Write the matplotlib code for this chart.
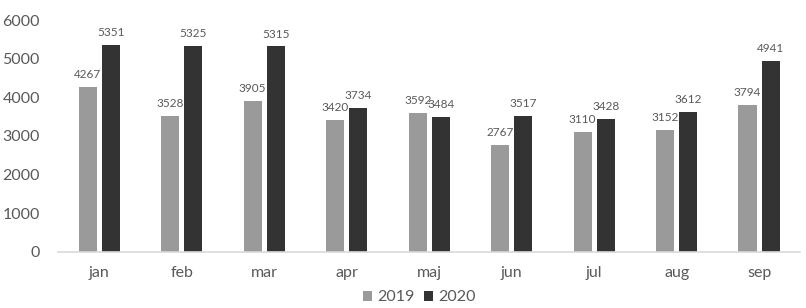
import numpy as np
import matplotlib.pyplot as plt

plt.rcParams["font.family"] = ["Lato", "DejaVu Sans"]

months = ["jan", "feb", "mar", "apr", "maj", "jun", "jul", "aug", "sep"]
v2019 = [4267, 3528, 3905, 3420, 3592, 2767, 3110, 3152, 3794]
v2020 = [5351, 5325, 5315, 3734, 3484, 3517, 3428, 3612, 4941]

c2019 = '#9a9a9a'
c2020 = '#333333'
textcolor = '#595959'

fig = plt.figure(figsize=(8.06, 3.08), dpi=100)
ax = fig.add_axes([0.072, 0.182, 0.921, 0.753])

x = np.arange(len(months))
w = 0.22
off = 0.14
b1 = ax.bar(x - off, v2019, w, color=c2019, label='2019')
b2 = ax.bar(x + off, v2020, w, color=c2020, label='2020')
ax.bar_label(b1, padding=5, fontsize=8.5, color=textcolor)
ax.bar_label(b2, padding=5, fontsize=8.5, color=textcolor)

ax.set_xlim(-0.5, len(months) - 0.5)
ax.set_ylim(0, 6000)
ax.set_yticks(np.arange(0, 6001, 1000))
ax.set_xticks(x)
ax.set_xticklabels(months)
ax.tick_params(axis='both', length=0, labelsize=11.5, colors=textcolor)
ax.tick_params(axis='x', pad=10)
ax.tick_params(axis='y', pad=13)
for s in ['top', 'right', 'left']:
    ax.spines[s].set_visible(False)
ax.spines['bottom'].set_color('#d9d9d9')
ax.spines['bottom'].set_linewidth(1.2)

fig.legend(loc='lower center', bbox_to_anchor=(0.52, -0.035), ncol=2, frameon=False,
           fontsize=11.5, handlelength=0.6, handleheight=0.6, handletextpad=0.3,
           columnspacing=0.6, labelcolor=textcolor)

plt.savefig('out.png', dpi=100)
